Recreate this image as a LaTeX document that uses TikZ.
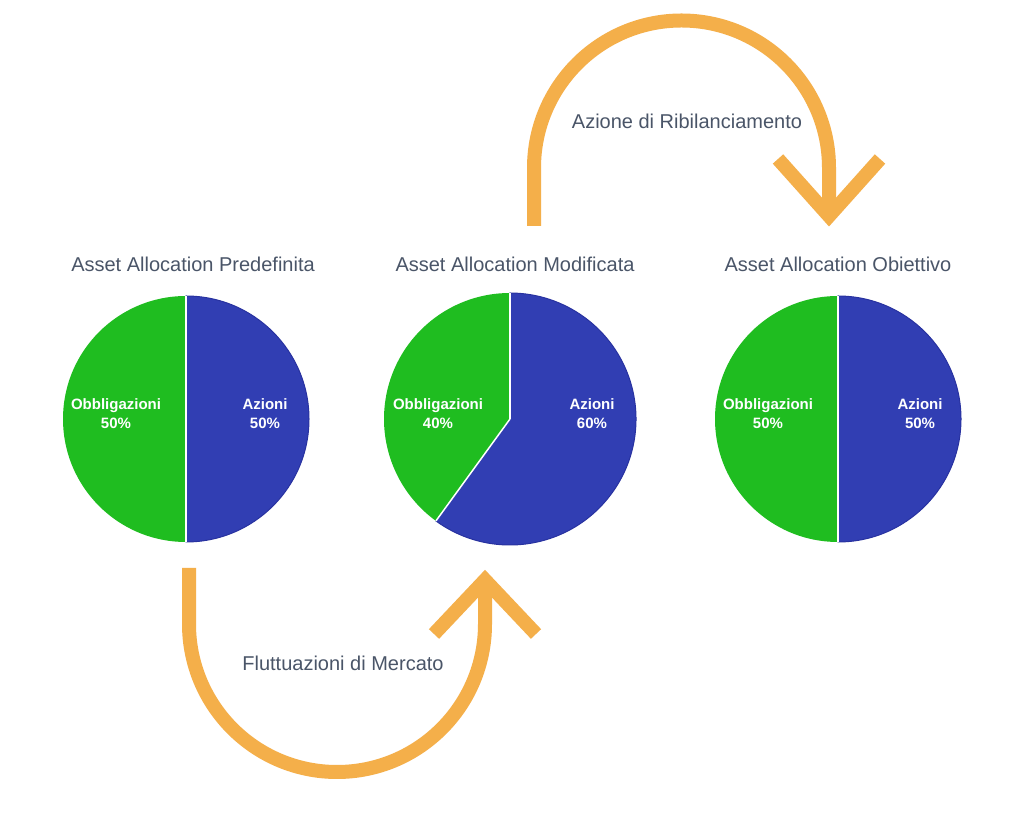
\documentclass[tikz,border=0pt]{standalone}
\usepackage{fontspec}
\setmainfont{Liberation Sans}
\usetikzlibrary{calc}
\definecolor{cGreen} {HTML}{1FBD20}
\definecolor{cBlue}  {HTML}{313EB3}
\definecolor{cEdge}  {HTML}{2832A0}
\definecolor{cFlow}  {HTML}{F4AF4A}
\definecolor{cText}  {HTML}{4A5568}

% pie with the green share starting at the top, counter-clockwise
\newcommand\pieslices[3]{% node, radius, end angle of green part
  \fill[cBlue, draw=cEdge, line width=1pt] (#1.center) -- ++(#3:#2) arc[start angle=#3, end angle=450, radius=#2] -- cycle;
  \fill[cGreen] (#1.center) -- ++(90:#2) arc[start angle=90, end angle=#3, radius=#2] -- cycle;
  \draw[white, line width=1.5pt] (#1.center) -- ++(90:#2);
  \draw[white, line width=1.5pt] (#1.center) -- ++(#3:#2);
}

\begin{document}
\begin{tikzpicture}[
  x=1pt, y=1pt,
  title/.style={font=\fontsize{20}{24}\selectfont, text=cText, anchor=base, inner sep=0pt},
  piebox/.style={circle, minimum size=#1, inner sep=0pt},
  slice/.style={font=\fontsize{15}{19}\selectfont\bfseries, text=white, align=center, inner sep=0pt},
  flow/.style={draw=cFlow, line width=14pt},
  tip/.style={flow, line join=miter},
]
\useasboundingbox[fill=white] (0,0) rectangle (1017,816);

% ---------------------------------------------------------------- titles
\node[title] (tPre) at (193,544) {Asset Allocation Predefinita};
\node[title] (tMod) at (515,544) {Asset Allocation Modificata};
\node[title] (tObj) at (838,544) {Asset Allocation Obiettivo};

% ---------------------------------------------------------------- pies
\node[piebox=246pt] (pPre) at (186,397) {};
\node[piebox=252pt] (pMod) at (510,397) {};
\node[piebox=246pt] (pObj) at (838,397) {};

\pieslices{pPre}{123}{270}
\pieslices{pMod}{126}{234}
\pieslices{pObj}{123}{270}

\node[slice] (oPre) at (116,402) {Obbligazioni\\50\%};
\node[slice] (aPre) at (265,402) {Azioni\\50\%};
\node[slice] (oMod) at (438,402) {Obbligazioni\\40\%};
\node[slice] (aMod) at (592,402) {Azioni\\60\%};
\node[slice] (oObj) at (768,402) {Obbligazioni\\50\%};
\node[slice] (aObj) at (920,402) {Azioni\\50\%};

% ---------------------------------------------------------------- arrows
\coordinate (flxStart) at (189,248);
\coordinate (flxTip)   at (485,236);
\draw[flow] (flxStart) -- ++(0,-56) arc[start angle=180, end angle=360, radius=148] -- (flxTip);
\draw[tip] ($(flxTip)+(-51,-54)$) -- (flxTip) -- ($(flxTip)+(51,-54)$);
\node[title] (lFlx) at (343,145) {Fluttuazioni di Mercato};

\coordinate (rebStart) at (534,590);
\coordinate (rebTip)   at (829,600);
\draw[flow] (rebStart) -- ++(0,58) arc[start angle=180, end angle=0, radius=147.5] -- (rebTip);
\draw[tip] ($(rebTip)+(-51,57)$) -- (rebTip) -- ($(rebTip)+(51,57)$);
\node[title] (lReb) at (687,687) {Azione di Ribilanciamento};

\end{tikzpicture}
\end{document}
